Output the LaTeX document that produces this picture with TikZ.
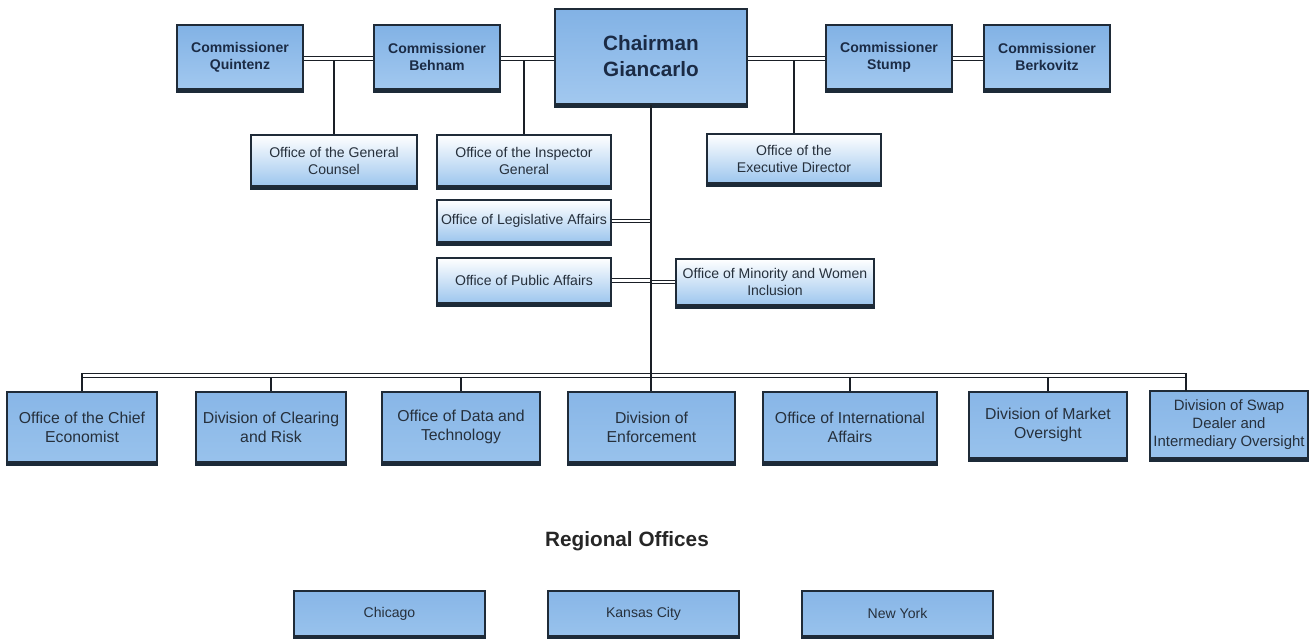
\documentclass[tikz,border=0pt]{standalone}
\usepackage{fontspec}
\setmainfont{Liberation Sans}
\definecolor{bordc}{HTML}{1F2B38}
\definecolor{shadc}{HTML}{1C2A38}
\definecolor{linec}{HTML}{1A1F26}
\definecolor{commtop}{HTML}{82B2E5}
\definecolor{commbot}{HTML}{A2C8EF}
\definecolor{offbot}{HTML}{9DC6EE}
\definecolor{divtop}{HTML}{88B6E7}
\definecolor{divbot}{HTML}{98C2EC}
\definecolor{txtdark}{HTML}{1B2B45}
\definecolor{txt}{HTML}{26303C}
\begin{document}
\begin{tikzpicture}[x=0.02cm,y=-0.02cm,
  every node/.style={inner sep=0pt, align=center},
  boxbase/.style={draw=bordc, line width=0.6pt},
  comm/.style={boxbase, top color=commtop, bottom color=commbot,
    minimum width=2.52cm, minimum height=1.28cm,
    font=\fontsize{8}{9.7}\selectfont\bfseries, text=txtdark},
  chair/.style={boxbase, top color=commtop, bottom color=commbot,
    minimum width=3.84cm, minimum height=1.90cm,
    font=\fontsize{11.8}{14.8}\selectfont\bfseries, text=txtdark},
  office/.style={boxbase, top color=white, bottom color=offbot,
    font=\fontsize{8}{9.7}\selectfont, text=txt},
  division/.style={boxbase, top color=divtop, bottom color=divbot,
    minimum height=1.40cm, font=\fontsize{9}{10.8}\selectfont, text=txt},
  region/.style={boxbase, top color=divtop, bottom color=divbot,
    minimum width=3.82cm, minimum height=0.90cm,
    font=\fontsize{8}{9.7}\selectfont, text=txt},
  dbl/.style={draw=linec, line width=0.55pt, double=white, double distance=1.4pt},
  sgl/.style={draw=linec, line width=0.7pt},
  shadowbar/.style={draw=shadc, line width=2pt}
]
\useasboundingbox (0,0) rectangle (1316,639);

% top row
\node[comm] (q) at (240,57) {Commissioner\\Quintenz};
\node[comm] (b) at (437,57) {Commissioner\\Behnam};
\node[chair] (c) at (651,56.5) {Chairman\\Giancarlo};
\node[comm] (s) at (889,57) {Commissioner\\Stump};
\node[comm] (k) at (1047,57) {Commissioner\\Berkovitz};

% offices
\node[office, minimum width=3.32cm, minimum height=1.02cm] (gc) at (334,160.5) {Office of the General\\Counsel};
\node[office, minimum width=3.48cm, minimum height=1.02cm] (ig) at (524,160.5) {Office of the Inspector\\General};
\node[office, minimum width=3.48cm, minimum height=0.98cm] (ed) at (794,158.5) {Office of the\\Executive Director};
\node[office, minimum width=3.48cm, minimum height=0.84cm] (la) at (524,221) {Office of Legislative Affairs};
\node[office, minimum width=3.48cm, minimum height=0.90cm] (pa) at (524,280.5) {Office of Public Affairs};
\node[office, minimum width=3.96cm, minimum height=0.92cm] (mw) at (775,282) {Office of Minority and Women\\Inclusion};

% divisions
\node[division, minimum width=3.00cm] (ce) at (82,427) {Office of the Chief\\Economist};
\node[division, minimum width=3.00cm] (cr) at (271,427) {Division of Clearing\\and Risk};
\node[division, minimum width=3.16cm] (dt) at (461,427) {Office of Data and\\Technology};
\node[division, minimum width=3.34cm] (en) at (651.5,427) {Division of\\Enforcement};
\node[division, minimum width=3.48cm] (ia) at (850,427) {Office of International\\Affairs};
\node[division, minimum width=3.16cm, minimum height=1.32cm] (mo) at (1048,425) {Division of Market\\Oversight};
\node[division, minimum width=3.16cm, minimum height=1.34cm, font=\fontsize{8.5}{10.3}\selectfont] (sd) at (1229,424.5) {Division of Swap\\Dealer and\\Intermediary Oversight};

% regional
\node[font=\fontsize{11.8}{14}\selectfont\bfseries, text=black!85] (ro) at (627,541) {Regional Offices};
\node[region] (chi) at (389.5,613.5) {Chicago};
\node[region] (kc) at (643.5,613.5) {Kansas City};
\node[region] (ny) at (897.5,613.5) {New York};

% shadows
\foreach \n in {q,b,c,s,k,gc,ig,ed,la,pa,mw,ce,cr,dt,en,ia,mo,sd,chi,kc,ny}
  \draw[shadowbar] ([yshift=-1pt]\n.south west) -- ([yshift=-1pt]\n.south east);

% coordinates
\coordinate (ty) at (0,58.5);
\coordinate (busy) at (0,375.5);
\coordinate (busl) at (81,375.5);
\coordinate (busr) at (1186,375.5);
\coordinate (bustop) at (0,373.3);
\coordinate (sdj) at (1186,391);

% verticals from the commissioner line
\draw[sgl] (gc.north |- ty) -- (gc.north);
\draw[sgl] (ig.north |- ty) -- (ig.north);
\draw[sgl] (ed.north |- ty) -- (ed.north);

% verticals from the bus
\draw[sgl] (cr.north |- busy) -- (cr.north);
\draw[sgl] (dt.north |- busy) -- (dt.north);
\draw[sgl] (ia.north |- busy) -- (ia.north);
\draw[sgl] (mo.north |- busy) -- (mo.north);

% double lines
\draw[dbl] (q.east |- ty) -- (b.west |- ty);
\draw[dbl] (b.east |- ty) -- (c.west |- ty);
\draw[dbl] (c.east |- ty) -- (s.west |- ty);
\draw[dbl] (s.east |- ty) -- (k.west |- ty);
\draw[dbl] (la.east) -- (c.south |- la.east);
\draw[dbl] (pa.east) -- (c.south |- pa.east);
\draw[dbl] (c.south |- mw.west) -- (mw.west);
\draw[dbl] (busl) -- (busr);

% end verticals and chairman trunk
\draw[sgl] (ce.north |- bustop) -- (ce.north);
\draw[sgl] (sdj |- bustop) -- (sdj);
\draw[sgl] (c.south) -- (c.south |- en.north);
\end{tikzpicture}
\end{document}
